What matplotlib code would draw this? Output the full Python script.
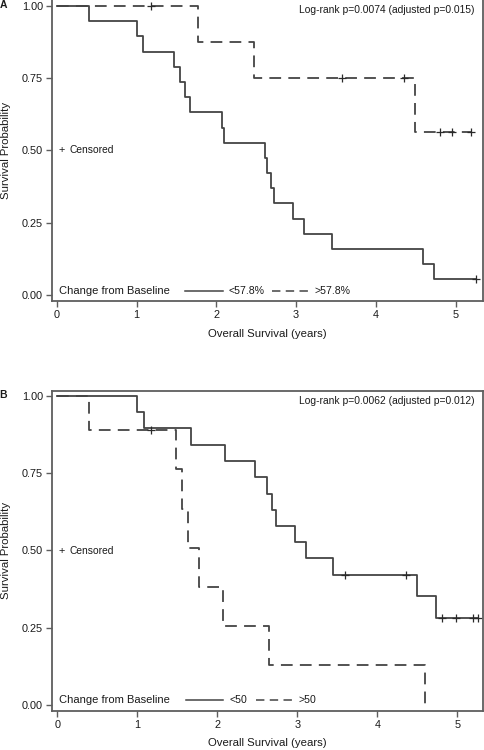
import numpy as np
import matplotlib
matplotlib.use('Agg')
import matplotlib.pyplot as plt

plt.rcParams['font.family'] = ['Liberation Sans', 'DejaVu Sans']

# Panel A: change from baseline <57.8% / >57.8%
a_low_t = [0, 0.40, 1.00, 1.075, 1.47, 1.54, 1.61, 1.67, 2.07, 2.09, 2.61, 2.63, 2.68, 2.72,
           2.965, 3.10, 3.45, 4.59, 4.73, 5.26]
a_low_s = [1.0, 0.947, 0.895, 0.842, 0.789, 0.737, 0.684, 0.632, 0.579, 0.526, 0.474, 0.421,
           0.368, 0.316, 0.263, 0.211, 0.158, 0.105, 0.053, 0.053]
a_low_cens = [5.26]
a_high_t = [0, 1.77, 2.47, 4.49, 5.19]
a_high_s = [1.0, 0.875, 0.75, 0.5625, 0.5625]
a_high_cens = [1.18, 3.58, 4.35, 4.80, 4.96, 5.19]

# Panel B: change from baseline <50 / >50
b_low_t = [0, 1.00, 1.08, 1.675, 2.10, 2.475, 2.62, 2.68, 2.73, 2.975, 3.105, 3.44, 4.50,
           4.73, 5.26]
b_low_s = [1.0, 0.947, 0.895, 0.842, 0.789, 0.737, 0.684, 0.632, 0.579, 0.526, 0.474, 0.421,
           0.351, 0.281, 0.281]
b_low_cens = [3.60, 4.36, 4.81, 4.98, 5.19, 5.26]
b_high_t = [0, 0.40, 1.48, 1.56, 1.63, 1.77, 2.07, 2.64, 4.60]
b_high_s = [1.0, 0.889, 0.762, 0.635, 0.508, 0.381, 0.254, 0.127, 0.0]
b_high_cens = [1.17]

panels = [
    dict(tag='A', low=(a_low_t, a_low_s, a_low_cens), high=(a_high_t, a_high_s, a_high_cens),
         labels=['<57.8%', '>57.8%'], p='Log-rank p=0.0074 (adjusted p=0.015)', p_y=10.3,
         rect=[52, -1.5, 483, 300.7], ylim=(-0.0208, 1.026), xlim=(-0.063, 5.345),
         leg_x=[185, 222.7, 228.3, 272, 309.3, 315], xlab_y=334),
    dict(tag='B', low=(b_low_t, b_low_s, b_low_cens), high=(b_high_t, b_high_s, b_high_cens),
         labels=['<50', '>50'], p='Log-rank p=0.0062 (adjusted p=0.012)', p_y=400.7,
         rect=[52, 390.7, 483, 710.7], ylim=(-0.0194, 1.017), xlim=(-0.066, 5.32),
         leg_x=[186, 223.3, 230, 256, 293.3, 298.3], xlab_y=743.3),
]

W, H = 485, 750
line_col = '#444444'
spine_col = '#5e5e5e'
text_col = '#1a1a1a'
dash = (0, (6.5, 4))

fig = plt.figure(figsize=(W / 100, H / 100), dpi=100)

for pn in panels:
    x0, y0, x1, y1 = pn['rect']
    ax = fig.add_axes([x0 / W, 1 - y1 / H, (x1 - x0) / W, (y1 - y0) / H])

    t, s, c = pn['low']
    ax.step(t, s, where='post', color=line_col, lw=1.3)
    cs = [s[np.searchsorted(t, v, side='right') - 1] for v in c]
    ax.plot(c, cs, ls='none', marker='+', ms=5.5, mew=0.9, color='#2a2a2a')

    t, s, c = pn['high']
    ax.step(t, s, where='post', color=line_col, lw=1.3, linestyle=dash)
    cs = [s[np.searchsorted(t, v, side='right') - 1] for v in c]
    ax.plot(c, cs, ls='none', marker='+', ms=5.5, mew=0.9, color='#2a2a2a')

    ax.set_xlim(*pn['xlim'])
    ax.set_ylim(*pn['ylim'])
    ax.set_xticks([0, 1, 2, 3, 4, 5])
    ax.set_yticks([0, 0.25, 0.5, 0.75, 1.0])
    ax.set_yticklabels(['0.00', '0.25', '0.50', '0.75', '1.00'])
    ax.tick_params(length=4.5, width=1, color=spine_col, labelsize=7.8, labelcolor=text_col, pad=2)
    for sp in ax.spines.values():
        sp.set_color(spine_col)
        sp.set_linewidth(1.3)

    ha_ = y1 - y0
    wa = x1 - x0

    # p-value text
    ax.text(0.981, (y1 - pn['p_y']) / ha_, pn['p'], transform=ax.transAxes,
            ha='right', va='center', fontsize=7.4, color=text_col)

    # censored key
    ax.text((61.2 - x0) / wa, 0.5, '+', transform=ax.transAxes, ha='center',
            va='center', fontsize=7.8, color=text_col)
    ax.text((70 - x0) / wa, 0.5, 'Censored', transform=ax.transAxes, ha='left',
            va='center', fontsize=7.4, color=text_col)

    # group key along the bottom
    ly = 0.033
    lx = [(v - x0) / wa for v in pn['leg_x']]
    ax.text((58.7 - x0) / wa, ly, 'Change from Baseline', transform=ax.transAxes,
            ha='left', va='center', fontsize=8, color=text_col)
    ax.plot(lx[0:2], [ly, ly], transform=ax.transAxes, color=line_col, lw=1.1)
    ax.text(lx[2], ly, pn['labels'][0], transform=ax.transAxes, ha='left', va='center',
            fontsize=7.6, color=text_col)
    ax.plot(lx[3:5], [ly, ly], transform=ax.transAxes, color=line_col, lw=1.1,
            linestyle=(0, (5.5, 3.5)))
    ax.text(lx[5], ly, pn['labels'][1], transform=ax.transAxes, ha='left', va='center',
            fontsize=7.6, color=text_col)

    # axis titles
    fig.text((x0 + x1) / 2 / W, 1 - pn['xlab_y'] / H, 'Overall Survival (years)',
             ha='center', va='center', fontsize=8.2, color=text_col)
    fig.text(6 / W, 1 - ((max(y0, 0) + y1) / 2) / H, 'Survival Probability', rotation=90,
             ha='center', va='center', fontsize=8.2, color=text_col)

fig.text(3.5 / W, 1 - 5.5 / H, 'A', ha='center', va='center', fontsize=7.5,
         fontweight='bold', color=text_col)
fig.text(3.5 / W, 1 - 395.5 / H, 'B', ha='center', va='center', fontsize=7.5,
         fontweight='bold', color=text_col)

fig.savefig('out.png', dpi=100)
